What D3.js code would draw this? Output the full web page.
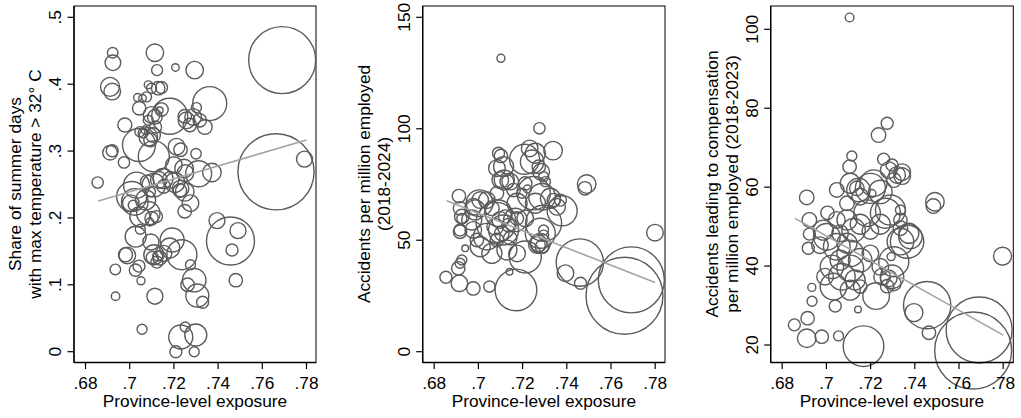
<!DOCTYPE html>
<html><head><meta charset="utf-8">
<script src="https://cdn.jsdelivr.net/npm/d3@7"></script>
<style>
body{margin:0;background:#fff}
svg{display:block}
text{font-family:"Liberation Sans",Arial,sans-serif;font-size:17.3px;fill:#000}
</style>
</head><body>
<svg id="chart" width="1021" height="418"></svg>
<script>
// ---- shared axis data ----
const xTicks = [0.68, 0.70, 0.72, 0.74, 0.76, 0.78];
const xTickLabels = [".68", ".7", ".72", ".74", ".76", ".78"];
const xTitle = "Province-level exposure";

// ---- panel 1: share of hot summer days ----
const exp1 = [.769,.7662,.7791,.7456,.7463,.749,.7395,.748,.7231,.7299,.7251,.7209,.7292,.7056,.6936,.7114,.6935,.7051,.7026,.7042,.6989,.6981,.7027,.7048,.7096,.7109,.7102,.7127,.7154,.7136,.7123,.7192,.7181,.7236,.7275,.7292,.7262,.7306,.733,.7372,.730,.7312,.7227,.7249,.7246,.7212,.7109,.7042,.7181,.7362,.7257,.7287,.7317,.734,.7302,.7272,.7249,.7294,.7207,.7114,.7124,.6923,.6924,.6911,.6921,.6978,.6911,.6921,.6855,.6974,.7036,.7058,.7043,.7084,.7099,.7129,.7144,.7076,.7099,.7114,.7136,.7084,.7046,.7061,.7084,.7106,.7094,.7069,.7117,.7023,.7005,.7016,.7046,.7084,.7099,.7091,.7121,.7009,.7031,.7109,.7132,.7079,.7154,.7094,.7151,.723,.7185,.72,.7252,.723,.7275,.7072,.7204,.7249,.7144];
const days1 = [.436,.269,.288,.1655,.152,.181,.196,.107,.022,.025,.037,.000,.000,.0335,.083,.083,.123,.106,.122,.128,.144,.145,.172,.183,.164,.145,.141,.143,.147,.140,.134,.167,.155,.145,.130,.107,.100,.084,.074,.268,.296,.266,.241,.210,.274,.3065,.292,.309,.352,.371,.346,.351,.346,.336,.365,.339,.352,.421,.425,.447,.421,.447,.432,.396,.389,.339,.2975,.3005,.253,.283,.380,.379,.364,.399,.394,.394,.395,.381,.354,.351,.361,.346,.329,.327,.3215,.324,.3165,.3315,.336,.224,.222,.219,.202,.207,.1995,.194,.202,.232,.249,.249,.257,.254,.247,.239,.259,.244,.257,.279,.267,.302,.222,.227,.253,.239,.362];
const size1 = [1122,1450,64,576,36,64,64,45,144,121,25,36,25,25,18,64,28,16,38,36,69,49,110,25,64,100,36,25,64,49,36,144,100,225,25,137,46,132,36,86,27,169,45,46,86,69,240,272,324,289,69,69,45,53,25,45,45,76,14,76,30,28,61,90,69,49,53,36,32,32,16,14,45,16,25,45,36,25,69,53,11,25,25,25,86,53,45,16,36,177,69,25,100,137,45,16,36,225,169,137,69,45,45,25,100,69,69,69,69,45,69,100,100,86,45];
const fitX1 = [0.6858, 0.78];
const fitY1 = [0.2253, 0.3165];
const yTicks1 = [0, 0.1, 0.2, 0.3, 0.4, 0.5];
const yLabels1 = ["0", ".1", ".2", ".3", ".4", ".5"];
const yTitle1 = ["Share of summer days", "with max temperature > 32\u00B0 C"];

// ---- panel 2: accidents per million employed ----
const exp2 = [.7661,.7692,.7459,.7394,.7462,.7799,.7490,.7482,.7379,.7338,.7276,.7102,.6912,.6925,.6917,.6940,.6925,.6909,.6917,.6853,.6914,.6977,.7050,.7170,.7141,.7091,.7102,.7114,.7084,.7099,.7129,.7232,.7258,.7243,.7209,.7273,.7284,.7295,.7303,.7159,.7144,.7117,.7326,.7288,.7258,.7356,.7371,.7295,.7280,.7212,.7288,.7265,.7295,.7273,.7005,.6985,.7080,.7091,.7114,.7038,.7008,.7061,.7129,.7175,.6977,.7038,.7084,.7175,.7167,.7099,.7121,.7076,.7136,.7106,.7084,.7144,.6993,.7061,.6917,.6925,.6917,.6977,.7008,.6970,.7341,.7250,.7212,.7174,.7295,.7280,.7197,.7212,.7222];
const acc2 = [25.1,32.2,40.0,35.2,30.7,53.4,75.2,73.3,63.2,90.2,100.2,131.6,69.8,60.6,54.6,46.4,41.1,37.4,39.7,33.4,30.7,28.4,29.2,27.7,35.9,89.0,87.8,83.0,82.3,77.0,76.3,91.2,89.0,85.2,86.3,83.0,80.7,78.5,76.3,72.5,76.3,77.0,68.8,69.5,66.6,65.0,68.0,57.6,53.1,42.5,47.1,47.9,52.3,48.6,66.6,63.6,58.0,62.1,54.6,51.6,47.1,44.1,45.6,44.1,54.6,68.0,71.1,66.6,59.1,59.1,60.6,56.1,56.8,53.1,50.1,50.9,50.1,64.3,64.3,59.8,53.8,65.0,68.0,59.1,68.0,71.1,59.8,59.8,54.6,48.6,71.1,75.5,73.0];
const size2 = [1480,1089,560,69,36,69,86,45,225,86,32,16,45,53,36,11,25,45,25,36,69,45,32,434,11,36,45,100,69,69,49,69,100,137,225,45,69,25,25,45,69,100,100,177,100,69,36,324,225,256,45,69,25,69,177,100,400,177,225,177,100,100,100,69,69,69,45,100,137,69,45,69,45,53,45,45,45,53,45,25,45,69,69,100,45,278,69,45,25,100,25,45,16];
const fitX2 = [0.6856, 0.78];
const fitY2 = [67.7, 31.0];
const yTicks2 = [0, 50, 100, 150];
const yLabels2 = ["0", "50", "100", "150"];
const yTitle2 = ["Accidents per million employed", "(2018-2024)"];

// ---- panel 3: accidents leading to compensation ----
const exp3 = [.7664,.7691,.7456,.7396,.7464,.7797,.7491,.7484,.7105,.7275,.7236,.7115,.7105,.7259,.7282,.7320,.7343,.7305,.7297,.7108,.7145,.7153,.7199,.7244,.7206,.6911,.6923,.6923,.6918,.6934,.6935,.6915,.6855,.6911,.6979,.7055,.7168,.7143,.7040,.7225,.7373,.7335,.7305,.7293,.7335,.7267,.7252,.7282,.7275,.7305,.7005,.7138,.7214,.7290,.7335,.6986,.7002,.6971,.7047,.7093,.7123,.7062,.7093,.7047,.7108,.7153,.7062,.7025,.7108,.7070,.7130,.6994,.7032,.7108,.7153,.7153,.7199,.7244,.7184,.7047,.7093,.7199,.7244,.7380,.7365,.7335,.7297,.7343];
const comp3 = [18.6,23.8,30.1,28.2,23.1,42.5,56.3,55.2,103.0,76.2,73.2,67.9,65.2,67.1,64.3,63.1,62.8,61.8,65.6,61.0,59.3,57.6,59.7,58.8,58.4,57.4,51.7,48.1,44.5,34.6,31.1,26.8,25.1,21.7,22.1,22.3,19.7,29.0,29.9,32.4,48.3,46.2,41.1,42.4,54.2,53.4,37.3,36.9,34.9,35.6,53.5,59.7,61.0,54.2,51.7,49.1,47.4,45.3,51.7,51.7,49.1,48.3,45.8,44.9,43.2,41.5,41.5,39.8,39.4,37.3,36.5,37.3,34.8,33.9,34.8,50.6,48.9,50.6,53.4,59.3,55.9,43.2,39.8,47.4,46.2,49.6,37.3,63.8];
const size3 = [1480,1089,560,81,45,81,86,53,19,36,53,25,45,36,69,69,69,53,36,100,137,69,225,137,16,53,53,36,36,16,25,45,36,86,45,25,412,11,36,177,100,177,225,16,25,225,69,69,45,53,45,53,177,225,45,100,177,69,69,100,137,69,100,177,177,137,100,137,177,177,100,69,177,100,45,100,69,100,177,53,53,69,69,137,278,53,137,69];
const fitX3 = [0.6858, 0.78];
const fitY3 = [52.1, 22.5];
const yTicks3 = [20, 40, 60, 80, 100];
const yLabels3 = ["20", "40", "60", "80", "100"];
const yTitle3 = ["Accidents leading to compensation", "per million employed (2018-2023)"];

// ---- layout ----
const panels = [
  {left: 74,    right: 316,    xs: exp1, ys: days1, ws: size1, fx: fitX1, fy: fitY1,
   yDomain: [0, 0.5],  yPix: [351.7, 17.3], yTicks: yTicks1, yLabels: yLabels1, yTitle: yTitle1},
  {left: 422.7, right: 665,    xs: exp2, ys: acc2,  ws: size2, fx: fitX2, fy: fitY2,
   yDomain: [0, 150],  yPix: [351.7, 17.3], yTicks: yTicks2, yLabels: yLabels2, yTitle: yTitle2},
  {left: 770.7, right: 1013.3, xs: exp3, ys: comp3, ws: size3, fx: fitX3, fy: fitY3,
   yDomain: [20, 100], yPix: [345, 29.3],   yTicks: yTicks3, yLabels: yLabels3, yTitle: yTitle3}
];
const plotTop = 6, plotBottom = 362.5;

const svg = d3.select("#chart");
const rScale = d3.scaleSqrt().domain([0, 1500]).range([0, Math.sqrt(1500)]);

panels.forEach(p => {
  const g = svg.append("g");
  const x = d3.scaleLinear().domain([0.68, 0.78]).range([p.left + 11.5, p.left + 232.5]);
  const y = d3.scaleLinear().domain(p.yDomain).range(p.yPix);

  g.append("rect").attr("x", p.left).attr("y", plotTop)
    .attr("width", p.right - p.left).attr("height", plotBottom - plotTop)
    .attr("fill", "none").attr("stroke", "#000").attr("stroke-width", 1);

  const pts = p.xs.map((v, i) => ({x: v, y: p.ys[i], w: p.ws[i]}));
  g.append("g").selectAll("circle").data(pts).join("circle")
    .attr("cx", d => x(d.x)).attr("cy", d => y(d.y)).attr("r", d => rScale(d.w))
    .attr("fill", "none").attr("stroke", "#5b5b5b").attr("stroke-width", 1.4);

  const line = d3.line().x(d => x(d[0])).y(d => y(d[1]));
  g.append("path").datum(p.fx.map((v, i) => [v, p.fy[i]]))
    .attr("d", line).attr("fill", "none").attr("stroke", "#a3a3a3").attr("stroke-width", 1.6);

  g.append("line").attr("x1", p.left).attr("x2", p.left).attr("y1", plotTop).attr("y2", plotBottom)
    .attr("stroke", "#000").attr("stroke-width", 1.4);
  g.append("line").attr("x1", p.left).attr("x2", p.right).attr("y1", plotBottom).attr("y2", plotBottom)
    .attr("stroke", "#000").attr("stroke-width", 1.4);

  xTicks.forEach((t, i) => {
    g.append("line").attr("x1", x(t)).attr("x2", x(t)).attr("y1", plotBottom).attr("y2", plotBottom + 6.5)
      .attr("stroke", "#000").attr("stroke-width", 1.2);
    g.append("text").attr("x", x(t)).attr("y", 388.5).attr("text-anchor", "middle").text(xTickLabels[i]);
  });
  g.append("text").attr("x", (p.left + p.right) / 2).attr("y", 406.5)
    .attr("text-anchor", "middle").text(xTitle);

  p.yTicks.forEach((t, i) => {
    g.append("line").attr("x1", p.left - 6.5).attr("x2", p.left).attr("y1", y(t)).attr("y2", y(t))
      .attr("stroke", "#000").attr("stroke-width", 1.2);
    g.append("text").attr("transform", `translate(${p.left - 13},${y(t)}) rotate(-90)`)
      .attr("text-anchor", "middle").text(p.yLabels[i]);
  });
  p.yTitle.forEach((s, i) => {
    g.append("text").attr("transform", `translate(${p.left - 53 + i * 20},184) rotate(-90)`)
      .attr("text-anchor", "middle").text(s);
  });
});
</script>
</body></html>
